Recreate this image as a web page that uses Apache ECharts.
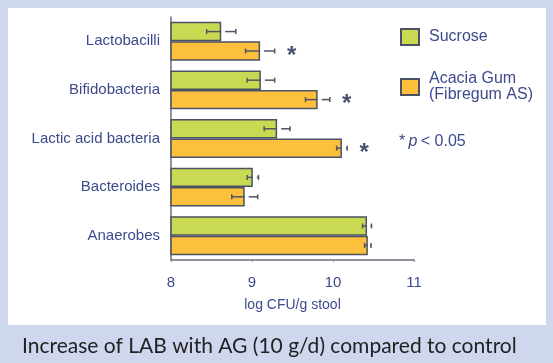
<!DOCTYPE html>
<html>
<head>
<meta charset="utf-8">
<script src="https://cdn.jsdelivr.net/npm/echarts@6/dist/echarts.min.js"></script>
<style>
html,body{margin:0;padding:0;background:#cfd7ef;}
#c{width:553px;height:363px;}
</style>
</head>
<body>
<div id="c"></div>
<script>
const categories = ['Lactobacilli', 'Bifidobacteria', 'Lactic acid bacteria', 'Bacteroides', 'Anaerobes'];
const sucrose = [8.62, 9.11, 9.31, 9.01, 10.42];
const sucroseErr = [0.18, 0.17, 0.16, 0.07, 0.055];
const acacia = [9.10, 9.81, 10.11, 8.91, 10.43];
const acaciaErr = [0.18, 0.15, 0.065, 0.16, 0.04];
const significant = [true, true, true, false, false];
const xTicks = [8, 9, 10, 11];
const seriesNames = ['Sucrose', 'Acacia Gum\n(Fibregum AS)'];

const navy = '#3d4a8c';
const edge = '#4b5263';

function errSeries(values, errs, sign, stars) {
  return {
    type: 'custom',
    silent: true,
    z: 5,
    data: values.map((v, i) => [v, i, errs[i], stars ? (significant[i] ? 1 : 0) : 0]),
    renderItem: function (params, api) {
      const v = api.value(0), idx = api.value(1), e = api.value(2), st = api.value(3);
      const band = api.size([0, 1])[1];
      const c = api.coord([v, idx]);
      const y = c[1] + sign * band * 0.2;
      const xl = api.coord([v - e, idx])[0];
      const xr = api.coord([v + e, idx])[0];
      const x0 = c[0];
      const st1 = { stroke: '#505564', lineWidth: 1.5 };
      const ch = [
        { type: 'line', shape: { x1: xl, y1: y, x2: x0, y2: y }, style: st1 },
        { type: 'line', shape: { x1: xl, y1: y - 2.5, x2: xl, y2: y + 2.5 }, style: st1 },
        { type: 'line', shape: { x1: Math.min(x0 + 4, xr - 1), y1: y, x2: xr, y2: y }, style: st1 },
        { type: 'line', shape: { x1: xr, y1: y - 2.5, x2: xr, y2: y + 2.5 }, style: st1 }
      ];
      if (st) {
        ch.push({ type: 'text', x: xr + 17, y: y + 5, style: { text: '*', fill: '#4a5070', font: 'bold 24px "Liberation Sans", Arial', align: 'center', verticalAlign: 'middle' } });
      }
      return { type: 'group', children: ch };
    }
  };
}

const chart = echarts.init(document.getElementById('c'));
chart.setOption({
  animation: false,
  backgroundColor: '#cfd7ef',
  textStyle: { fontFamily: '"Liberation Sans", Arial, sans-serif' },
  graphic: [
    { type: 'rect', z: -10, shape: { x: 8, y: 8, width: 538, height: 317 }, style: { fill: '#ffffff' } },
    { type: 'text', left: 399, top: 134, style: { text: '{a|*} {p|p} {a|< 0.05}', rich: { a: { fontSize: 16, fill: navy, fontFamily: '"Liberation Sans", Arial' }, p: { fontSize: 16, fill: navy, fontStyle: 'italic', fontFamily: '"Liberation Sans", Arial' } } } },
    { type: 'text', left: 22, top: 336, style: { text: 'Increase of LAB with AG (10 g/d) compared to control', fill: '#222222', font: '21px Lato, sans-serif' } }
  ],
  legend: {
    orient: 'vertical',
    left: 400,
    top: 28,
    padding: 0,
    icon: 'rect',
    itemWidth: 18,
    itemHeight: 16,
    itemGap: 25,
    data: seriesNames,
    textStyle: { fontSize: 16, color: navy, lineHeight: 16, padding: [0, 0, 0, 5] }
  },
  grid: { left: 171, top: 17, width: 243, height: 243 },
  xAxis: {
    type: 'value', min: 8, max: 11, interval: 1,
    axisLine: { show: true, lineStyle: { color: '#6b6f7a', width: 1.5 } },
    axisTick: { show: true, length: 2, lineStyle: { color: '#8a8e99' } },
    splitLine: { show: false },
    axisLabel: { fontSize: 15, color: navy, margin: 15, formatter: v => xTicks.includes(v) ? String(v) : '' },
    name: 'log CFU/g stool', nameLocation: 'middle', nameGap: 38,
    nameTextStyle: { fontSize: 14, color: navy }
  },
  yAxis: {
    type: 'category', inverse: true, data: categories,
    axisLine: { show: true, lineStyle: { color: '#6b6f7a', width: 1.5 } },
    axisTick: { show: false },
    axisLabel: { fontSize: 15, color: navy, margin: 11 }
  },
  series: [
    { name: seriesNames[0], type: 'bar', data: sucrose, barGap: '0%', barCategoryGap: '20%',
      itemStyle: { color: '#c9da52', borderColor: edge, borderWidth: 1.5 } },
    { name: seriesNames[1], type: 'bar', data: acacia, barGap: '0%', barCategoryGap: '20%',
      itemStyle: { color: '#fdc03c', borderColor: edge, borderWidth: 1.5 } },
    errSeries(sucrose, sucroseErr, -1, false),
    errSeries(acacia, acaciaErr, 1, true)
  ]
});
</script>
</body>
</html>
